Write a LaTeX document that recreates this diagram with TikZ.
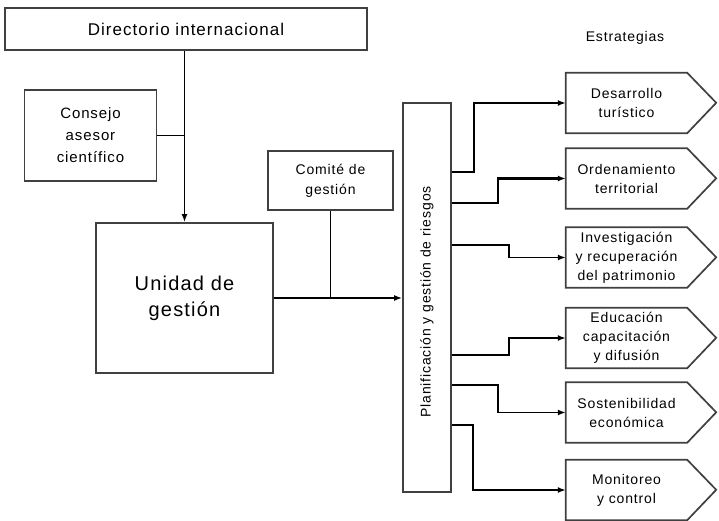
\documentclass[tikz,border=0pt]{standalone}
\usepackage{fontspec}
\setmainfont[LetterSpace=6]{Liberation Sans}
\usetikzlibrary{arrows.meta}
\newcommand{\fs}[2]{\fontsize{#1}{#2}\selectfont}
\tikzset{
  box/.style={draw=black!75, line width=1.7pt, fill=white, align=center},
  strat/.style={align=center, minimum width=121pt, minimum height=60pt, inner sep=0pt, font=\fs{14}{19}},
  link/.style={line width=1.6pt},
  heavy/.style={line width=2.6pt}
}
\begin{document}
\begin{tikzpicture}[x=1pt, y=-1pt, >={Latex[length=8pt,width=6pt]}]
\useasboundingbox (0,0) rectangle (719,521);
% left side
\node[box, minimum width=362pt, minimum height=42pt, font=\fs{17}{20}] (dir) at (186,29) {Directorio internacional};
\node[box, minimum width=132pt, minimum height=91pt, font=\fs{15}{22}] (con) at (90.5,135.5) {Consejo\\asesor\\científico};
\node[box, minimum width=177pt, minimum height=150pt, font=\fs{20}{26}] (uni) at (184.5,298) {Unidad de\\gestión};
\node[box, minimum width=125pt, minimum height=59pt, font=\fs{14}{20}] (com) at (330.5,180.5) {Comité de\\gestión};
\node[box, minimum width=48pt, minimum height=389pt] (plan) at (427,297.5) {};
\node[rotate=90, font=\fs{14}{18}] (plantxt) at (427,302) {Planificación y gestión de riesgos};
\draw[link,->] (dir.south -| uni) -- (uni);
\draw[link] (con) -- (con -| uni);
\draw[link] (com) -- (com |- uni);
\draw[heavy,->] (uni.east) -- (uni.east -| plan.west);
% strategies
\node[font=\fs{14}{16}] (est) at (625,38) {Estrategias};
\node[strat] (s1) at (626.5,103) {Desarrollo\\turístico};
\node[strat] (s2) at (626.5,178.5) {Ordenamiento\\territorial};
\node[strat] (s3) at (626.5,257.5) {Investigación\\y recuperación\\del patrimonio};
\node[strat] (s4) at (626.5,338) {Educación\\capacitación\\y difusión};
\node[strat] (s5) at (626.5,412.5) {Sostenibilidad\\económica};
\node[strat] (s6) at (626.5,490) {Monitoreo\\y control};
\foreach \s in {s1,s2,s3,s4,s5,s6}
  \draw[draw=black!75, line width=1.7pt, line join=miter] (\s.north west) -- (\s.north east) -- ++(29pt,-30pt) -- (\s.south east) -- (\s.south west) -- cycle;
\draw[link,->] (plan.east |- 0,172) -- ++(22,0) |- (s1);
\draw[heavy,->] (plan.east |- 0,203) -- ++(46,0) |- (s2);
\draw[link,->] (plan.east |- 0,245) -- ++(57,0) |- (s3);
\draw[link,->] (plan.east |- 0,355) -- ++(57,0) |- (s4);
\draw[link,->] (plan.east |- 0,385) -- ++(46,0) |- (s5);
\draw[heavy,->] (plan.east |- 0,425) -- ++(21,0) |- (s6);
\end{tikzpicture}
\end{document}
